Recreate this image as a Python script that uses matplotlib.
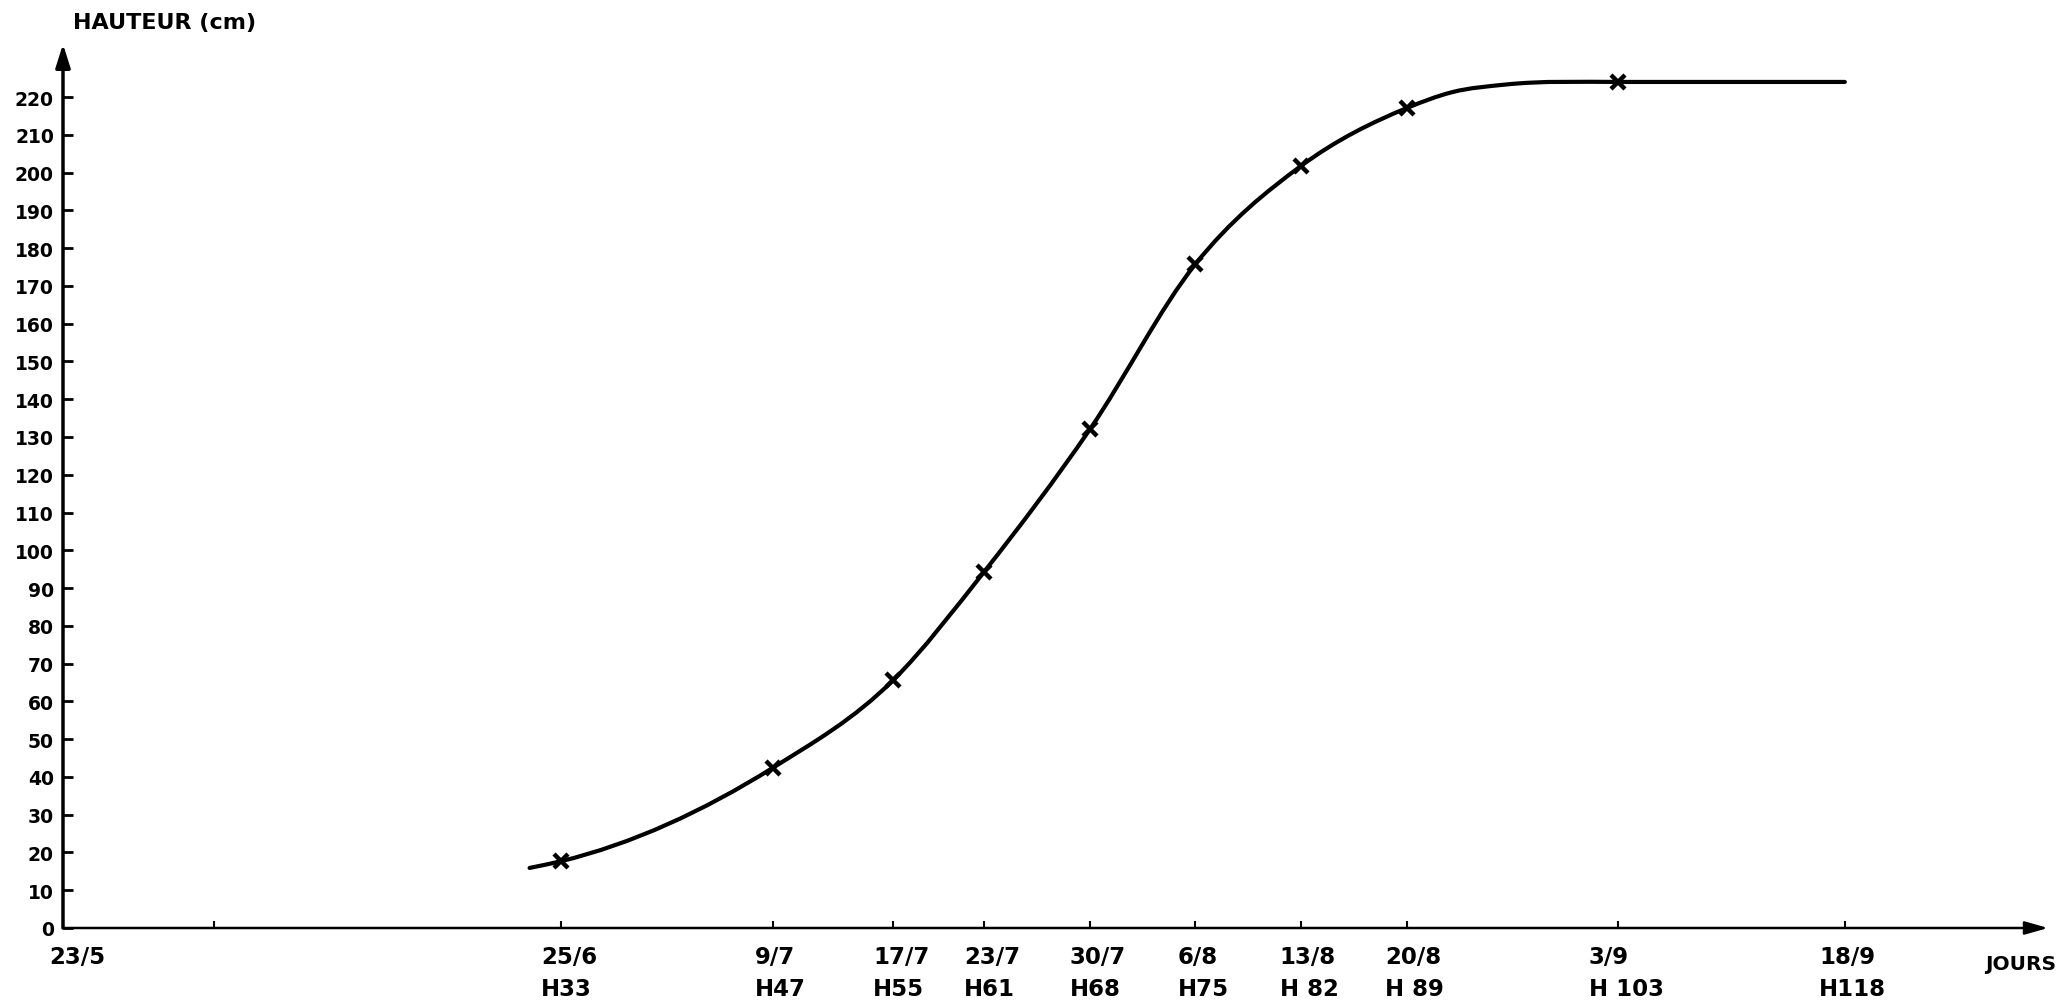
import numpy as np
import matplotlib
matplotlib.use("Agg")
import matplotlib.pyplot as plt
import matplotlib.transforms as mtransforms
from matplotlib.path import Path
from matplotlib.patches import PathPatch

# jours comptes depuis le 23/5 (H = numero du jour)
tick_days = [0, 10, 33, 47, 55, 61, 68, 75, 82, 89, 103, 118]
tick_labels = ["23/5", "", "25/6\nH33", "9/7\nH47", "17/7\nH55", "23/7\nH61",
               "30/7\nH68", "6/8\nH75", "13/8\nH 82", "20/8\nH 89",
               "3/9\nH 103", "18/9\nH118"]

# mesures (croix)
mesure_days = [33, 47, 55, 61, 68, 75, 82, 89, 103]
mesure_cm = [17.7, 42.4, 65.7, 94.3, 132.0, 175.8, 201.8, 217.1, 224.0]

# points lus le long du trace de la courbe
courbe_days = [30.9, 33, 47, 55, 61, 68, 75, 82, 89, 92, 95.5, 103, 118]
courbe_cm = [15.9, 17.7, 42.4, 65.7, 94.3, 132.0, 175.8, 201.8, 217.1, 221.3, 223.3, 224.0, 224.0]

y_ticks = list(range(0, 230, 10))


def smooth_path(xs, ys):
    # courbe de Bezier (hermite) passant par les points lus
    xs = np.asarray(xs, float)
    ys = np.asarray(ys, float)
    h = np.diff(xs)
    d = np.diff(ys) / h
    m = np.zeros_like(xs)
    m[0] = d[0]
    m[-1] = d[-1]
    for k in range(1, len(xs) - 1):
        if d[k - 1] * d[k] <= 0:
            m[k] = 0.0   # palier : pas de depassement
        else:
            m[k] = (h[k] * d[k - 1] + h[k - 1] * d[k]) / (h[k - 1] + h[k])
    verts = [(xs[0], ys[0])]
    codes = [Path.MOVETO]
    for k in range(len(xs) - 1):
        verts += [(xs[k] + h[k] / 3, ys[k] + m[k] * h[k] / 3),
                  (xs[k + 1] - h[k] / 3, ys[k + 1] - m[k + 1] * h[k] / 3),
                  (xs[k + 1], ys[k + 1])]
        codes += [Path.CURVE4] * 3
    return Path(verts, codes)


plt.rcParams['font.family'] = ['DejaVu Sans']
plt.rcParams['font.weight'] = 'bold'

W, H = 2072, 1003
fig = plt.figure(figsize=(W / 100, H / 100), dpi=100)
x0, y0 = 63, 929      # origine en pixels
px_day, px_cm = 15.1, 3.777
x_tip, y_tip = 2048, 45
ax = fig.add_axes([x0 / W, (H - y0) / H, (x_tip - x0) / W, (y0 - y_tip) / H])
ax.set_xlim(0, (x_tip - x0) / px_day)
ax.set_ylim(0, (y0 - y_tip) / px_cm)

for s in ax.spines.values():
    s.set_visible(False)

# axes avec fleches
ax.annotate("", xy=(0, 1), xytext=(0, 0), xycoords="axes fraction",
            arrowprops=dict(arrowstyle="-|>,head_length=0.7,head_width=0.22",
                            mutation_scale=20, lw=2.5, color="black",
                            shrinkA=0, shrinkB=0))
ax.annotate("", xy=(1, 0), xytext=(0, 0), xycoords="axes fraction",
            arrowprops=dict(arrowstyle="-|>,head_length=0.7,head_width=0.2",
                            mutation_scale=20, lw=1.8, color="black",
                            shrinkA=0, shrinkB=0))

ax.set_yticks(y_ticks)
ax.set_yticklabels([str(v) for v in y_ticks])
ax.tick_params(axis="y", direction="in", length=7, width=2, pad=6.5,
               labelsize=13.5, colors="black")

ax.set_xticks(tick_days)
ax.set_xticklabels(tick_labels, linespacing=1.5, multialignment="left")
ax.tick_params(axis="x", direction="in", length=5, width=1.5, pad=12,
               labelsize=16.5, colors="black")
offset = mtransforms.ScaledTranslation(8 / 100, 0, fig.dpi_scale_trans)
for lab in ax.get_xticklabels():
    lab.set_transform(lab.get_transform() + offset)
ax.get_xticklabels()[0].set_transform(ax.get_xticklabels()[0].get_transform()
                                      + mtransforms.ScaledTranslation(6 / 100, 0, fig.dpi_scale_trans))

# courbe lissee + croix
ax.add_patch(PathPatch(smooth_path(courbe_days, courbe_cm), facecolor="none",
                       edgecolor="black", lw=3, capstyle="round"))
ax.plot(mesure_days, mesure_cm, linestyle="none", marker="x", markersize=10,
        markeredgewidth=3.2, color="black")

fig.text(73 / W, 1 - 23 / H, "HAUTEUR (cm)", ha="left", va="center",
         fontsize=16, fontweight="bold")
fig.text(2021 / W, 1 - 965 / H, "JOURS", ha="center", va="center",
         fontsize=14.5, fontweight="bold")

fig.savefig("out.png", dpi=100, facecolor="white")
